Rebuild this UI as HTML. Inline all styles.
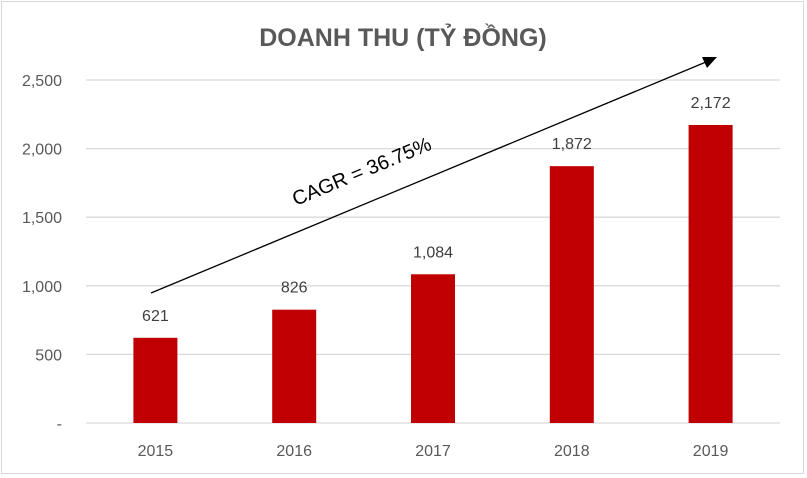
<!DOCTYPE html>
<html><head><meta charset="utf-8"><style>
body{margin:0;background:#fff;}
svg{display:block;font-family:"Liberation Sans","Noto Sans CJK SC",sans-serif;}
</style></head><body>
<svg width="807" height="478">
<rect x="1.5" y="1.5" width="802" height="472" fill="#fff" stroke="#d9d9d9"/>
<text x="403" y="46" text-anchor="middle" font-size="25" font-weight="bold" fill="#595959">DOANH THU (TỶ ĐỒNG)</text>
<g id="grid"></g><g id="bars"></g><g id="labels"></g>
<line x1="151" y1="293" x2="706" y2="62" stroke="#000" stroke-width="1.3"/>
<polygon points="717,57 702,57 707,68" fill="#000"/>
<text x="362" y="178" text-anchor="middle" font-size="20" fill="#000" transform="rotate(-22.6 362 172)">CAGR = 36.75%</text>
</svg>
<script>
const categories=["2015","2016","2017","2018","2019"];
const values=[621,826,1084,1872,2172];
const valueLabels=["621","826","1,084","1,872","2,172"];
const ticks=[0,500,1000,1500,2000,2500];
const tickLabels=["-","500","1,000","1,500","2,000","2,500"];
const NS="http://www.w3.org/2000/svg";
const x0=86,x1=780,y0=423,yTop=80,maxV=2500;
const y=v=>y0-(y0-yTop)*v/maxV;
const band=(x1-x0)/categories.length;
const xc=i=>x0+band*(i+0.5);
function mk(t,a,p){const e=document.createElementNS(NS,t);for(const k in a)e.setAttribute(k,a[k]);p.appendChild(e);return e;}
const g=document.getElementById('grid'),b=document.getElementById('bars'),l=document.getElementById('labels');
ticks.forEach((t,i)=>{
  const ln=mk('line',{x1:x0,x2:x1,y1:y(t),y2:y(t),stroke:'#d9d9d9','stroke-width':1.3},g);
  
  
  const tx=mk('text',{x:62,y:y(t)+6,'text-anchor':'end','font-size':16,fill:'#595959'},g);
  tx.textContent=tickLabels[i];
  
  
});
categories.forEach((c,i)=>{
  const r=mk('rect',{x:xc(i)-22,y:y(values[i]),width:44,height:y0-y(values[i]),fill:'#c00000'},b);
  
  
  const v=mk('text',{x:xc(i),y:y(values[i])-17,'text-anchor':'middle','font-size':16,fill:'#404040'},l);
  v.textContent=valueLabels[i];
  
  
  const xt=mk('text',{x:xc(i),y:456,'text-anchor':'middle','font-size':16,fill:'#595959'},l);
  xt.textContent=c;
  
  
});
</script>
</body></html>
